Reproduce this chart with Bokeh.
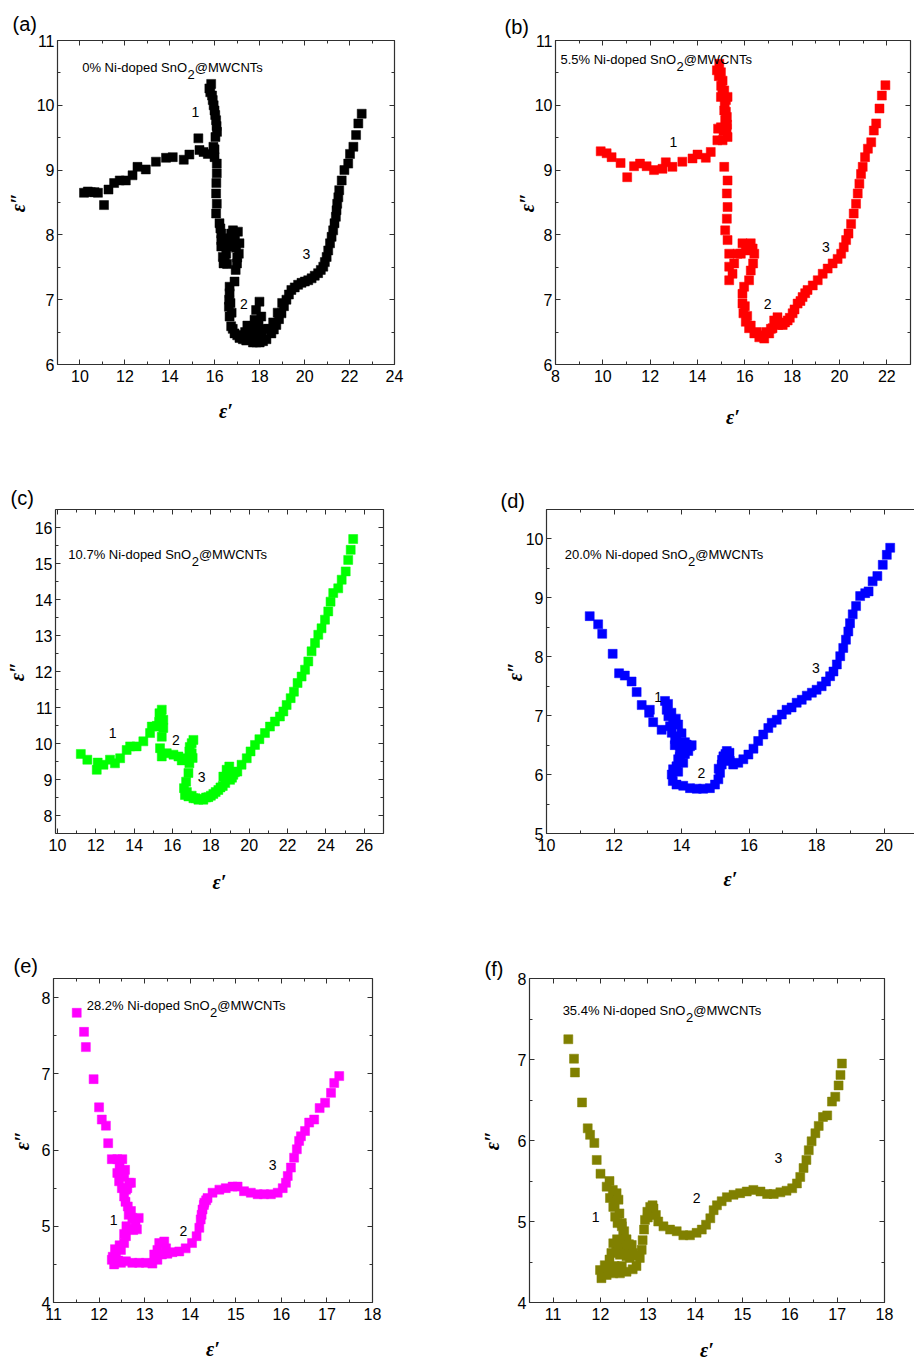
from bokeh.plotting import figure
from bokeh.layouts import column, row
from bokeh.models import Range1d, LinearAxis, SingleIntervalTicker, Label, CustomJSTickFormatter, Title
from bokeh.embed import file_html
from bokeh.resources import INLINE

# ---------------- data ----------------
a_x = [10.18, 10.35, 10.48, 10.65, 10.8, 11.07, 11.27, 11.52, 11.77, 12.04, 12.34, 12.56, 12.93, 13.38,
       13.83, 14.13, 14.62, 14.87, 15.27, 15.32, 15.5, 15.69, 15.99, 15.99, 15.94, 16.03, 16.1, 16.08,
       16.06, 16.02, 15.99, 15.95, 15.91, 15.88, 15.84, 15.76, 15.8, 16.09, 16.09, 16.07, 16.06, 16.09,
       16.06, 16.21, 16.25, 16.29, 16.29, 16.29, 16.36, 16.39, 16.45, 16.51, 16.66, 16.73, 16.81, 16.9,
       17.03, 17.1, 17.07, 16.99, 16.93, 16.88, 16.66, 16.66, 16.64, 16.63, 16.66, 16.73, 16.88, 17.1,
       17.25, 17.4, 17.55, 17.65, 17.77, 17.84, 17.99, 18.07, 17.95, 17.84, 17.7, 17.85, 18.0, 18.15,
       18.3, 18.52, 18.63, 18.74, 18.86, 18.97, 19.08, 19.19, 19.3, 19.41, 19.56, 19.71, 19.86, 20.01,
       20.16, 20.31, 20.45, 20.6, 20.72, 20.83, 20.9, 20.98, 21.05, 21.13, 21.2, 21.27, 21.33, 21.39,
       21.42, 21.45, 21.5, 21.54, 21.65, 21.77, 21.94, 22.02, 22.17, 22.29, 22.39, 22.54,
       16.45, 16.55, 16.6, 16.95, 17.0, 16.85, 16.8, 17.0, 17.2, 17.35, 17.5, 17.6, 17.45, 17.75,
       17.9, 18.1, 18.2, 16.75, 16.7, 18.4, 18.6, 18.8, 19.0]
a_y = [8.65, 8.67, 8.66, 8.66, 8.65, 8.46, 8.70, 8.80, 8.84, 8.84, 8.92, 9.05, 9.01, 9.13,
       9.19, 9.20, 9.16, 9.24, 9.49, 9.31, 9.28, 9.25, 9.32, 9.20, 9.36, 9.51, 9.59, 9.68,
       9.77, 9.85, 9.92, 10.0, 10.08, 10.15, 10.33, 10.26, 10.2, 9.1, 8.95, 8.8, 8.64, 8.48,
       8.33, 8.18, 8.1, 8.02, 7.92, 7.82, 7.66, 7.56, 7.62, 7.71, 7.82, 8.02, 8.07, 7.95,
       8.05, 7.87, 7.71, 7.56, 7.46, 7.28, 7.2, 7.1, 7.0, 6.89, 6.74, 6.59, 6.48, 6.41,
       6.39, 6.37, 6.48, 6.58, 6.69, 6.84, 6.97, 6.74, 6.6, 6.48, 6.34, 6.34, 6.34, 6.36,
       6.39, 6.48, 6.54, 6.61, 6.7, 6.79, 6.9, 7.0, 7.08, 7.15, 7.19, 7.23, 7.26, 7.28,
       7.3, 7.33, 7.37, 7.41, 7.46, 7.51, 7.58, 7.66, 7.76, 7.87, 7.97, 8.07, 8.18, 8.28,
       8.38, 8.48, 8.58, 8.69, 8.84, 9.0, 9.1, 9.25, 9.36, 9.54, 9.72, 9.87,
       7.85, 7.55, 7.95, 7.8, 7.65, 7.9, 6.55, 6.45, 6.45, 6.5, 6.55, 6.4, 6.6, 6.55,
       6.45, 6.45, 6.55, 6.8, 6.95, 6.55, 6.65, 6.8, 6.95]

b_x = [9.91, 10.16, 10.37, 10.75, 11.03, 11.32, 11.57, 11.85, 12.16, 12.52, 12.66, 12.94, 13.36, 13.79,
       14.0, 14.35, 14.56, 14.84, 14.87, 15.06, 14.99, 15.17, 15.27, 15.23, 14.82, 14.92, 14.99, 15.06,
       15.13, 14.99, 15.2, 15.27, 15.13, 15.24, 15.13, 15.27, 15.24, 15.27, 15.24, 15.17, 15.27, 15.34,
       15.34, 15.34, 15.48, 15.55, 15.69, 15.83, 15.9, 16.04, 16.11, 16.25, 16.33, 16.4, 16.35, 16.25,
       16.18, 15.97, 15.9, 15.9, 15.94, 16.04, 16.18, 16.4, 16.61, 16.82, 17.03, 17.17, 17.24, 17.38,
       17.41, 17.6, 17.81, 18.02, 18.23, 18.44, 18.65, 18.87, 19.08, 19.29, 19.5, 19.71, 19.92, 20.07,
       20.18, 20.28, 20.38, 20.49, 20.6, 20.7, 20.77, 20.84, 20.91, 20.98, 21.08, 21.2, 21.34, 21.45,
       21.55, 21.69, 21.79, 21.94,
       14.9, 15.0, 15.05, 15.15, 15.2, 15.25, 15.1, 16.0, 16.1, 16.25, 16.5, 16.7, 16.9, 17.1,
       17.3, 17.5, 17.7, 17.9, 18.1, 18.35, 18.55]
b_y = [9.29, 9.26, 9.20, 9.11, 8.89, 9.06, 9.10, 9.06, 9.0, 9.02, 9.12, 9.05, 9.13, 9.18,
       9.24, 9.19, 9.28, 9.46, 9.64, 9.46, 9.66, 9.77, 9.51, 9.64, 10.54, 10.64, 10.51, 10.38,
       10.23, 10.13, 10.08, 10.13, 9.92, 9.82, 9.05, 8.84, 8.64, 8.43, 8.25, 8.07, 7.92, 7.71,
       7.51, 7.30, 7.40, 7.56, 7.71, 7.71, 7.87, 7.76, 7.84, 7.87, 7.79, 7.71, 7.56, 7.45,
       7.30, 7.20, 7.09, 6.94, 6.79, 6.66, 6.56, 6.48, 6.42, 6.40, 6.48, 6.56, 6.68, 6.73,
       6.61, 6.61, 6.68, 6.79, 6.94, 7.04, 7.15, 7.22, 7.30, 7.40, 7.48, 7.56, 7.63, 7.71,
       7.81, 7.92, 8.02, 8.17, 8.33, 8.48, 8.64, 8.79, 8.94, 9.05, 9.2, 9.33, 9.43, 9.61,
       9.72, 9.95, 10.15, 10.31,
       10.45, 10.3, 10.2, 10.0, 9.9, 9.7, 9.6, 6.9, 6.75, 6.6, 6.5, 6.45, 6.5, 6.55,
       6.65, 6.62, 6.65, 6.72, 6.85, 6.98, 7.1]

c_x = [11.22, 11.56, 12.05, 12.1, 12.4, 12.74, 13.0, 13.27, 13.61, 13.79, 14.13, 14.48, 14.83, 14.92,
       15.18, 15.32, 15.44, 15.52, 15.35, 15.52, 15.44, 15.35, 15.44, 15.70, 16.05, 16.31, 16.48, 16.74,
       16.88, 17.0, 17.09, 17.0, 16.88, 16.83, 16.71, 16.6, 16.65, 16.83, 17.09, 17.35, 17.61, 17.87,
       18.13, 18.39, 18.62, 18.65, 18.82, 18.96, 19.0, 19.17, 19.38, 19.6, 19.87, 20.07, 20.3, 20.53,
       20.82, 21.08, 21.34, 21.6, 21.78, 21.95, 22.16, 22.33, 22.52, 22.73, 22.91, 23.08, 23.25, 23.43,
       23.6, 23.77, 23.95, 24.12, 24.24, 24.38, 24.64, 24.82, 25.03, 25.16, 25.29, 25.42,
       16.75, 17.0, 17.2, 17.5, 17.75, 18.0, 18.25, 18.5, 18.75, 18.85, 19.1, 19.25, 15.4, 15.45,
       15.3, 16.9, 17.05]
c_y = [9.71, 9.55, 9.27, 9.47, 9.41, 9.55, 9.45, 9.59, 9.82, 9.92, 9.92, 10.06, 10.29, 10.47,
       10.49, 10.84, 10.94, 10.66, 10.47, 10.43, 10.19, 9.87, 9.64, 9.73, 9.69, 9.64, 9.53, 9.59,
       9.78, 10.01, 10.10, 9.73, 9.45, 9.18, 8.94, 8.76, 8.57, 8.53, 8.48, 8.44, 8.44, 8.51,
       8.6, 8.71, 8.82, 9.08, 9.27, 9.36, 8.99, 9.13, 9.22, 9.41, 9.59, 9.78, 9.96, 10.12,
       10.29, 10.47, 10.61, 10.75, 10.89, 11.07, 11.26, 11.44, 11.68, 11.86, 12.05, 12.28, 12.56, 12.79,
       13.02, 13.2, 13.44, 13.67, 13.94, 14.18, 14.31, 14.55, 14.78, 15.1, 15.38, 15.68,
       8.65, 8.55, 8.48, 8.46, 8.5, 8.55, 8.65, 8.78, 8.9, 9.1, 9.05, 9.2, 10.75, 10.55,
       10.6, 9.9, 9.6]

d_x = [11.28, 11.53, 11.65, 11.96, 12.15, 12.32, 12.52, 12.67, 12.82, 13.06, 13.04, 13.16, 13.41, 13.51,
       13.56, 13.61, 13.66, 13.83, 13.71, 13.81, 13.95, 14.15, 14.25, 14.05, 13.9, 13.85, 13.75, 13.71,
       13.74, 13.85, 14.05, 14.25, 14.45, 14.64, 14.84, 14.99, 15.09, 15.14, 15.19, 15.24, 15.34, 15.42,
       15.43, 15.53, 15.68, 15.83, 15.98, 16.13, 16.27, 16.42, 16.57, 16.67, 16.82, 16.97, 17.11, 17.26,
       17.41, 17.56, 17.71, 17.86, 18.0, 18.15, 18.28, 18.4, 18.5, 18.6, 18.7, 18.79, 18.87, 18.94,
       18.99, 19.07, 19.17, 19.29, 19.44, 19.54, 19.66, 19.8, 19.96, 20.08, 20.18,
       13.6, 13.7, 13.75, 13.9, 14.0, 13.85, 14.1, 14.2, 13.95, 14.05, 13.9, 14.1, 14.3, 15.2,
       15.3, 15.4, 15.1, 13.8, 13.95]
d_y = [8.69, 8.55, 8.39, 8.05, 7.72, 7.68, 7.58, 7.4, 7.18, 7.1, 7.05, 6.89, 6.76, 7.25,
       7.1, 6.99, 6.82, 6.95, 6.71, 6.6, 6.51, 6.51, 6.48, 6.37, 6.26, 6.14, 6.09, 6.0,
       5.89, 5.83, 5.81, 5.77, 5.76, 5.76, 5.77, 5.83, 5.92, 6.03, 6.17, 6.31, 6.4, 6.37,
       6.23, 6.17, 6.2, 6.26, 6.34, 6.44, 6.57, 6.68, 6.79, 6.88, 6.93, 7.02, 7.1, 7.14,
       7.22, 7.27, 7.34, 7.39, 7.44, 7.5, 7.58, 7.67, 7.75, 7.87, 8.01, 8.15, 8.29, 8.43,
       8.57, 8.72, 8.86, 9.03, 9.08, 9.11, 9.28, 9.37, 9.56, 9.73, 9.85,
       7.2, 7.05, 6.9, 6.85, 6.7, 6.65, 6.55, 6.4, 6.4, 6.2, 6.05, 6.35, 6.5, 6.25,
       6.35, 6.3, 6.1, 6.5, 6.3]

e_x = [11.51, 11.67, 11.71, 11.88, 12.0, 12.06, 12.15, 12.2, 12.28, 12.40, 12.51, 12.40, 12.44, 12.57,
       12.66, 12.59, 12.7, 12.55, 12.63, 12.7, 12.73, 12.87, 12.83, 12.66, 12.59, 12.55, 12.48, 12.37,
       12.28, 12.33, 12.48, 12.59, 12.73, 12.88, 13.03, 13.17, 13.21, 13.28, 13.32, 13.43, 13.47, 13.38,
       13.28, 13.5, 13.61, 13.76, 13.9, 14.04, 14.14, 14.2, 14.23, 14.27, 14.31, 14.38, 14.49, 14.64,
       14.78, 14.93, 15.04, 15.18, 15.33, 15.48, 15.62, 15.77, 15.92, 16.03, 16.1, 16.14, 16.21, 16.28,
       16.34, 16.39, 16.43, 16.52, 16.61, 16.72, 16.84, 16.96, 17.09, 17.16, 17.27,
       12.45, 12.55, 12.62, 12.5, 12.58, 12.65, 12.6, 12.55, 12.45, 12.35, 12.3, 12.42, 12.75, 12.8,
       14.25, 14.3, 14.35]
e_y = [7.8, 7.55, 7.35, 6.93, 6.56, 6.4, 6.32, 6.09, 5.88, 5.88, 5.88, 5.7, 5.59, 5.74,
       5.57, 5.48, 5.57, 5.39, 5.26, 5.2, 5.11, 5.11, 4.96, 4.96, 4.87, 4.78, 4.69, 4.63,
       4.56, 4.5, 4.52, 4.54, 4.52, 4.52, 4.52, 4.51, 4.63, 4.69, 4.78, 4.8, 4.71, 4.63,
       4.56, 4.64, 4.66, 4.67, 4.71, 4.78, 4.87, 4.98, 5.09, 5.22, 5.31, 5.37, 5.44, 5.48,
       5.5, 5.52, 5.52, 5.46, 5.44, 5.42, 5.42, 5.42, 5.44, 5.5, 5.57, 5.66, 5.77, 5.9,
       6.01, 6.12, 6.18, 6.25, 6.36, 6.4, 6.55, 6.62, 6.75, 6.88, 6.97,
       5.8, 5.65, 5.5, 5.5, 5.32, 5.15, 5.0, 4.9, 4.75, 4.7, 4.6, 4.55, 4.95, 5.05,
       5.15, 5.28, 5.34]

f_x = [11.32, 11.44, 11.46, 11.61, 11.73, 11.78, 11.87, 11.92, 12.0, 12.13, 12.19, 12.2, 12.26, 12.34,
       12.38, 12.27, 12.31, 12.36, 12.45, 12.48, 12.52, 12.57, 12.66, 12.69, 12.55, 12.41, 12.33, 12.27,
       12.23, 12.19, 12.09, 11.99, 12.02, 12.13, 12.27, 12.41, 12.55, 12.68, 12.76, 12.83, 12.87, 12.89,
       12.92, 12.94, 12.99, 13.05, 13.12, 13.17, 13.22, 13.33, 13.47, 13.61, 13.75, 13.89, 14.03, 14.14,
       14.23, 14.32, 14.39, 14.46, 14.56, 14.67, 14.81, 14.95, 15.09, 15.23, 15.38, 15.52, 15.66, 15.8,
       15.93, 16.05, 16.15, 16.22, 16.29, 16.35, 16.4, 16.46, 16.54, 16.61, 16.7, 16.79, 16.89, 16.96,
       17.03, 17.07, 17.1,
       12.3, 12.4, 12.45, 12.5, 12.55, 12.6, 12.42, 12.35, 12.38, 12.5, 12.62, 12.7, 12.15, 12.3,
       12.45, 13.0, 13.1]
f_y = [7.25, 7.01, 6.84, 6.47, 6.15, 6.07, 5.97, 5.76, 5.59, 5.43, 5.5, 5.29, 5.39, 5.35,
       5.27, 5.18, 5.06, 4.98, 4.94, 4.83, 4.73, 4.65, 4.71, 4.61, 4.57, 4.59, 4.65, 4.73,
       4.61, 4.53, 4.46, 4.4, 4.3, 4.34, 4.36, 4.36, 4.38, 4.41, 4.45, 4.55, 4.65, 4.77,
       4.9, 5.02, 5.12, 5.18, 5.16, 5.08, 5.0, 4.94, 4.9, 4.88, 4.83, 4.83, 4.86, 4.9,
       4.96, 5.04, 5.14, 5.2, 5.25, 5.3, 5.33, 5.35, 5.37, 5.39, 5.37, 5.34, 5.34, 5.36,
       5.38, 5.41, 5.47, 5.55, 5.66, 5.76, 5.88, 5.99, 6.09, 6.18, 6.29, 6.31, 6.48, 6.54,
       6.68, 6.81, 6.95,
       5.2, 5.1, 4.98, 4.88, 4.78, 4.72, 4.7, 4.78, 4.62, 4.6, 4.55, 4.58, 4.42, 4.45,
       4.45, 5.05, 5.2]

panel_letters = ["(a)", "(b)", "(c)", "(d)", "(e)", "(f)"]
doping = ["0%", "5.5%", "10.7%", "20.0%", "28.2%", "35.4%"]
colors = ["#000000", "#FF0000", "#00FF00", "#0000FF", "#FF00FF", "#808000"]

# annotation numbers 1,2,3 positions (data)
num_pos = [
    [(15.14, 9.9), (17.3, 6.94), (20.08, 7.71)],
    [(12.98, 9.43), (16.96, 6.93), (19.43, 7.81)],
    [(12.88, 10.29), (16.18, 10.1), (17.52, 9.06)],
    [(13.31, 7.32), (14.59, 6.03), (17.98, 7.81)],
    [(12.32, 5.08), (13.85, 4.94), (15.81, 5.8)],
    [(11.9, 5.06), (14.03, 5.29), (15.76, 5.78)],
]
sample_pos = [(10.1, 10.59), (8.21, 10.71), (10.57, 15.24), (10.54, 9.73), (11.73, 7.9), (11.2, 7.6)]

# ---------------- layout specs ----------------
specs = [
    dict(xr=(9, 24), yr=(6, 11), xi=2, yi=1, W=457, H=470, b=(57, 63, 40, 105), lx=12, lt=11, ys=5, xs=15, right=True),
    dict(xr=(8, 23), yr=(6, 11), xi=2, yi=1, W=457, H=470, b=(98, 4, 40, 106), lx=47, lt=6, ys=-6, xs=21, right=True),
    dict(xr=(9.9, 27), yr=(7.5, 16.5), xi=2, yi=1, W=457, H=470, b=(55, 74, 39, 107), lx=10, lt=2, ys=4, xs=17, right=True),
    dict(xr=(10, 20.9), yr=(5, 10.5), xi=2, yi=1, W=457, H=470, b=(89, 0, 39, 107), lx=43, lt=-5, ys=-3, xs=14, right=False),
    dict(xr=(11, 18), yr=(4, 8.25), xi=1, yi=1, W=457, H=423, b=(53, 85, 38, 60), lx=13, lt=4, ys=6, xs=15, right=True),
    dict(xr=(10.5, 18), yr=(4, 8), xi=1, yi=1, W=457, H=423, b=(72, 30, 38, 60), lx=27, lt=-3, ys=12, xs=16, right=True),
]
series = [(a_x, a_y), (b_x, b_y), (c_x, c_y), (d_x, d_y), (e_x, e_y), (f_x, f_y)]

AW = {'0': 556, '1': 556, '2': 556, '3': 556, '4': 556, '5': 556, '6': 556, '7': 556, '8': 556, '9': 556,
      '%': 889, ' ': 278, '.': 278, 'N': 722, 'i': 222, '-': 333, 'd': 556, 'o': 556, 'p': 556,
      'e': 556, 'S': 667, 'n': 556, 'O': 778}


def text_w(s, size):
    return sum(AW.get(ch, 556) for ch in s) * size / 1000.0


SANS = "Liberation Sans"
FRAME = "#303030"


def style_axis(ax, show_labels=True):
    ax.axis_line_color = FRAME
    ax.axis_line_width = 1.2
    ax.major_tick_line_color = FRAME
    ax.minor_tick_line_color = FRAME
    ax.major_tick_in = 5
    ax.major_tick_out = 0
    ax.minor_tick_in = 3
    ax.minor_tick_out = 0
    ax.major_label_text_font = SANS
    ax.major_label_text_font_size = "16px"
    ax.major_label_text_color = "#000000"
    if not show_labels:
        ax.formatter = CustomJSTickFormatter(code="return ''")
        ax.major_label_standoff = 0
        ax.major_label_text_font_size = "1px"


def make_panel(i):
    s = specs[i]
    l, r, t, b = s["b"]
    title = Title(text=panel_letters[i], align="left", offset=s["lx"] - l, text_font=SANS,
                  text_font_size="20px", text_font_style="normal", text_color="#000000", standoff=s["lt"])
    p = figure(width=s["W"], height=s["H"], x_range=Range1d(*s["xr"]), y_range=Range1d(*s["yr"]),
               output_backend="svg", toolbar_location=None, title=title,
               min_border_left=l, min_border_right=r, min_border_top=t, min_border_bottom=b)
    p.grid.visible = False
    p.outline_line_color = None
    p.background_fill_color = "white"
    p.border_fill_color = "white"

    p.xaxis.ticker = SingleIntervalTicker(interval=s["xi"], num_minor_ticks=2)
    p.yaxis.ticker = SingleIntervalTicker(interval=s["yi"], num_minor_ticks=2)
    for ax in p.xaxis + p.yaxis:
        style_axis(ax)
    p.xaxis.major_label_standoff = 5
    p.yaxis.major_label_standoff = 3
    p.xaxis.axis_label = "\u03b5\u2032"
    p.yaxis.axis_label = "\u03b5\u2033"
    for ax in p.xaxis + p.yaxis:
        ax.axis_label_text_font = "Liberation Serif"
        ax.axis_label_text_font_style = "bold italic"
        ax.axis_label_text_font_size = "20px"
        ax.axis_label_text_color = "#000000"
    p.xaxis.axis_label_standoff = s["xs"]
    p.yaxis.axis_label_standoff = s["ys"]

    top = LinearAxis(ticker=SingleIntervalTicker(interval=s["xi"], num_minor_ticks=2))
    style_axis(top, show_labels=False)
    p.add_layout(top, "above")
    if s["right"]:
        rax = LinearAxis(ticker=SingleIntervalTicker(interval=s["yi"], num_minor_ticks=2))
        style_axis(rax, show_labels=False)
        p.add_layout(rax, "right")

    xs, ys = series[i]
    p.scatter(xs, ys, marker="square", size=9, fill_color=colors[i], line_color=colors[i], line_width=0.5)

    # sample label with subscript
    sx, sy = sample_pos[i]
    main = doping[i] + " Ni-doped SnO"
    fs = 13
    w1 = text_w(main, fs)
    common = dict(x=sx, y=sy, text_font=SANS, text_font_size=f"{fs}px", text_baseline="alphabetic",
                  text_align="left", text_color="#000000")
    p.add_layout(Label(text=main, **common))
    p.add_layout(Label(text="2", x_offset=w1 + 0.5, y_offset=-7, **common))
    p.add_layout(Label(text="@MWCNTs", x_offset=w1 + text_w("2", fs) + 0.5, **common))

    for k, (nx, ny) in enumerate(num_pos[i]):
        p.add_layout(Label(x=nx, y=ny, text=str(k + 1), text_font=SANS, text_font_size="14px",
                           text_align="center", text_baseline="middle", text_color="#000000"))
    return p


panels = [make_panel(i) for i in range(6)]
layout = column(row(panels[0], panels[1]), row(panels[2], panels[3]), row(panels[4], panels[5]))
open("out.html", "w").write(file_html(layout, INLINE))
